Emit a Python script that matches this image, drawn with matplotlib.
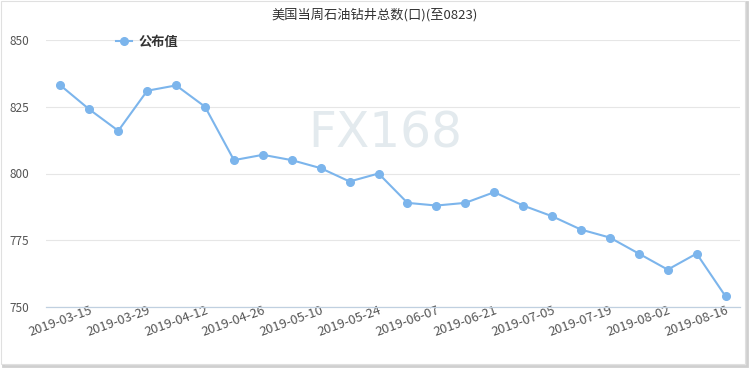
import matplotlib
matplotlib.use("Agg")
import matplotlib.pyplot as plt
from matplotlib.patches import Rectangle

plt.rcParams['font.family'] = ['Noto Sans CJK SC', 'DejaVu Sans']

dates = ["2019-03-15", "2019-03-22", "2019-03-29", "2019-04-05", "2019-04-12", "2019-04-19",
         "2019-04-26", "2019-05-03", "2019-05-10", "2019-05-17", "2019-05-24", "2019-05-31",
         "2019-06-07", "2019-06-14", "2019-06-21", "2019-06-28", "2019-07-05", "2019-07-12",
         "2019-07-19", "2019-07-26", "2019-08-02", "2019-08-09", "2019-08-16", "2019-08-23"]
values = [833, 824, 816, 831, 833, 825, 805, 807, 805, 802, 797, 800,
          789, 788, 789, 793, 788, 784, 779, 776, 770, 764, 770, 754]
series_name = "公布值"
title = "美国当周石油钻井总数(口)(至0823)"
yticks = [750, 775, 800, 825, 850]

fig = plt.figure(figsize=(7.5, 3.7), dpi=100)
ax = fig.add_axes([46/750, 1-307/370, (740-46)/750, (307-40)/370])

x = list(range(len(dates)))
line_color = '#7cb5ec'
ax.plot(x, values, color=line_color, lw=1.5, marker='o', ms=5.5, zorder=3,
        label=series_name, clip_on=False)

ax.set_xlim(-0.5, len(dates) - 0.5)
ax.set_ylim(750, 850)
ax.set_yticks(yticks)
ax.set_yticklabels([str(v) for v in yticks])
ax.grid(axis='y', color='#e6e6e6', lw=0.8, zorder=0)
ax.set_axisbelow(True)
for s in ['left', 'right', 'top']:
    ax.spines[s].set_visible(False)
ax.spines['bottom'].set_color('#c0d0e0')
ax.spines['bottom'].set_linewidth(0.9)

ax.tick_params(axis='y', length=0, pad=26, labelsize=8.5, labelcolor='#555555')
for lab in ax.get_yticklabels():
    lab.set_ha('left')

tick_idx = list(range(0, len(dates), 2))
ax.set_xticks(tick_idx)
ax.set_xticklabels([dates[i] for i in tick_idx], rotation=20, rotation_mode='anchor',
                   ha='center', va='center')
ax.tick_params(axis='x', length=0, pad=10.5, labelsize=9.3, labelcolor='#555555')

fig.text(0.5, 1-15/370, title, ha='center', va='center', fontsize=9.5, color='#333333')

leg = ax.legend(loc='upper left', bbox_to_anchor=(116/750, 1-35/370), bbox_transform=fig.transFigure,
                frameon=False, handlelength=1.2, handletextpad=0.5,
                borderaxespad=0, borderpad=0, prop={'weight': 'bold', 'size': 9.5})
for t in leg.get_texts():
    t.set_color('#333333')

fig.text(385/750, 1-133/370, "FX168", ha='center', va='center', fontsize=35,
         color='#e3eaee', zorder=0, family='DejaVu Sans')

# outer frame with shadow
fig.patches.append(Rectangle((3/750, 4/370), 744/750, 364/370, transform=fig.transFigure,
                             facecolor='none', edgecolor='#cfcfcf', lw=2.0, zorder=-1))
fig.patches.append(Rectangle((1/750, 6/370), 744/750, 363/370, transform=fig.transFigure,
                             facecolor='white', edgecolor='#e0e0e0', lw=0.8, zorder=-0.5))

fig.savefig('out.png', dpi=100)
